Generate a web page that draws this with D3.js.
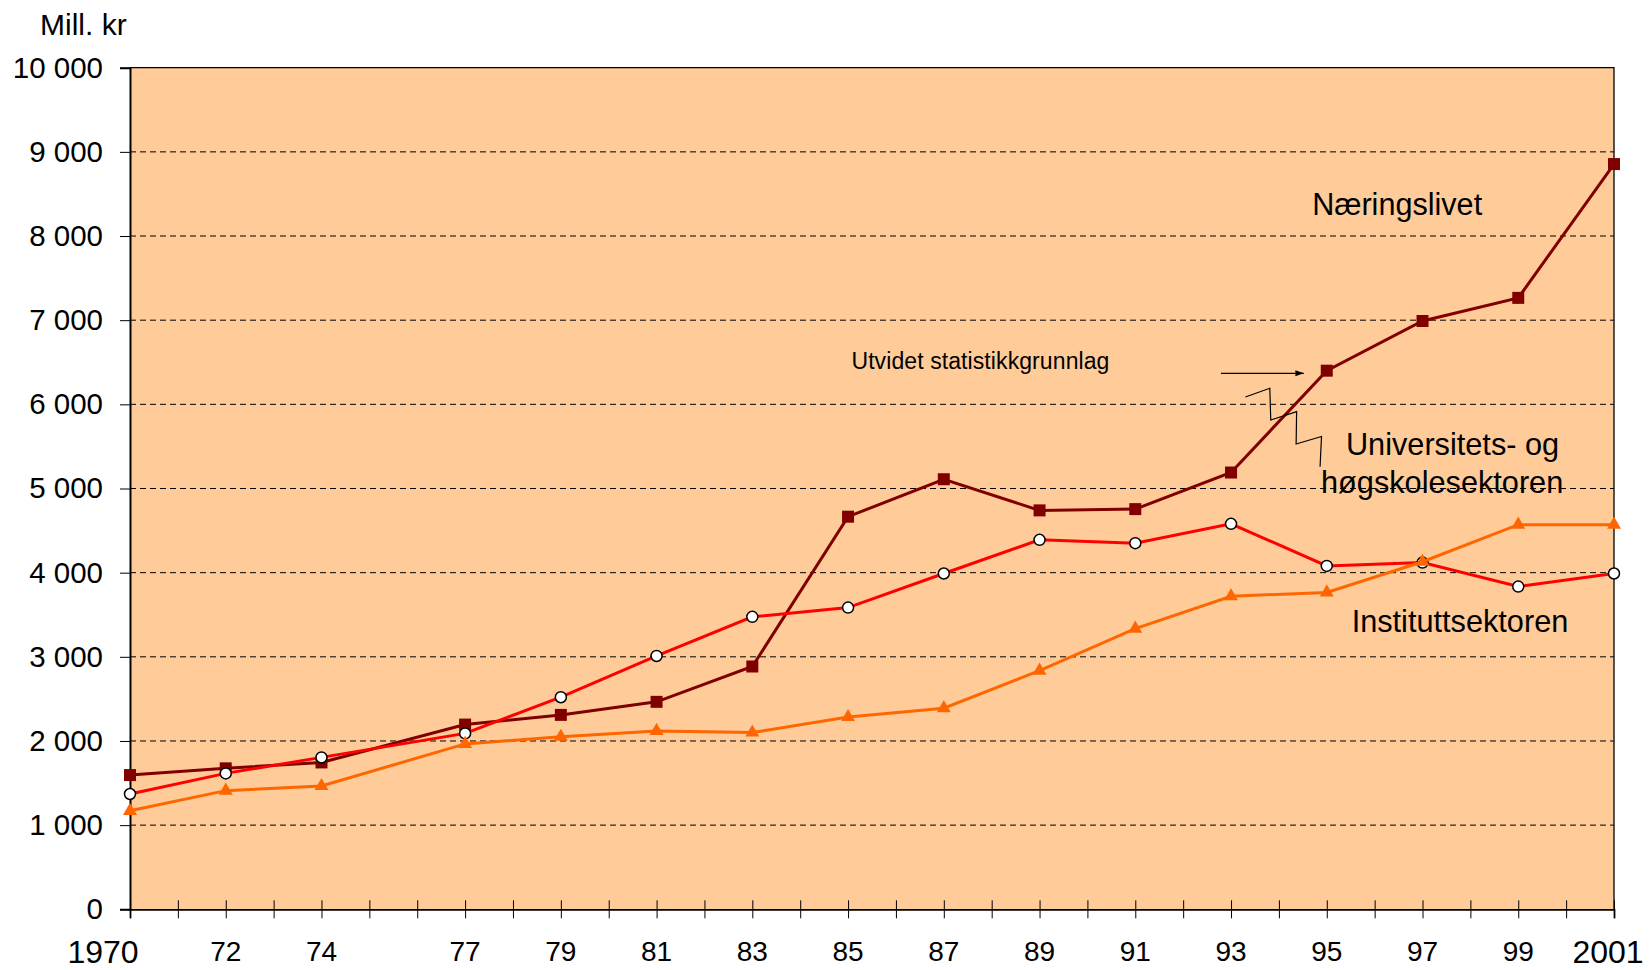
<!DOCTYPE html>
<html>
<head>
<meta charset="utf-8">
<script src="https://cdn.jsdelivr.net/npm/d3@7"></script>
<style>
  body { margin: 0; background: #fff; }
  svg { display: block; font-family: "Liberation Sans", Arial, sans-serif; }
</style>
</head>
<body>
<div id="chart"></div>
<script>
'use strict';

// data
const years = [1970, 1972, 1974, 1977, 1979, 1981, 1983, 1985, 1987, 1989, 1991, 1993, 1995, 1997, 1999, 2001]
const yearLabels = ['1970', '72', '74', '77', '79', '81', '83', '85', '87', '89', '91', '93', '95', '97', '99', '2001']
const naeringslivet = [1595, 1675, 1745, 2195, 2310, 2465, 2885, 4665, 5110, 4740, 4755, 5190, 6400, 6990, 7265, 8855]
const universitet = [1370, 1615, 1805, 2090, 2520, 3010, 3475, 3585, 3990, 4390, 4350, 4580, 4080, 4120, 3835, 3990]
const institutt = [1170, 1410, 1465, 1965, 2050, 2120, 2100, 2285, 2390, 2835, 3335, 3720, 3765, 4130, 4570, 4570]
const yTicks = [0, 1000, 2000, 3000, 4000, 5000, 6000, 7000, 8000, 9000, 10000]

var width = 1650,
    height = 970

var margin = { left: 130, right: 36, top: 67.7, bottom: 60.7 }

var svg = d3.select('#chart').append('svg')
    .attr('width', width)
    .attr('height', height)

var x = d3.scaleLinear()
    .domain([1970, 2001])
    .range([margin.left, width - margin.right])

var y = d3.scaleLinear()
    .domain([0, 10000])
    .range([height - margin.bottom, margin.top])

// plot background
svg.append('rect')
    .attr('x', x(1970))
    .attr('y', y(10000))
    .attr('width', x(2001) - x(1970))
    .attr('height', y(0) - y(10000))
    .attr('fill', '#FFCC99')

// dashed grid
svg.append('g')
    .selectAll('line')
    .data(yTicks.filter(d => d > 0 && d < 10000))
    .enter().append('line')
    .attr('x1', x(1970))
    .attr('x2', x(2001))
    .attr('y1', d => y(d))
    .attr('y2', d => y(d))
    .attr('stroke', '#000')
    .attr('stroke-width', 1)
    .attr('stroke-dasharray', '6,4')

// top and right border
svg.append('path')
    .attr('d', `M${x(1970)},${y(10000)}H${x(2001)}V${y(0)}`)
    .attr('fill', 'none')
    .attr('stroke', '#000')
    .attr('stroke-width', 1.3)

// y axis
var yAxis = svg.append('g')
    .attr('transform', `translate(${x(1970)},0)`)
    .call(d3.axisLeft(y).tickValues(yTicks).tickSize(10).tickPadding(17)
      .tickFormat(d => d3.format(',')(d).replace(/,/g, ' ')))

yAxis.select('.domain').attr('stroke-width', 2)
yAxis.selectAll('text')
    .attr('font-size', 29.5)
    .attr('font-family', '"Liberation Sans", Arial, sans-serif')
    .attr('fill', '#000')

// x axis: a tick every year, crossing the axis line
var xAxis = svg.append('g')
    .attr('transform', `translate(0,${y(0)})`)
    .call(d3.axisBottom(x).tickValues(d3.range(1970, 2002)).tickSize(9).tickFormat(''))

xAxis.select('.domain').attr('stroke-width', 1.8)
xAxis.selectAll('.tick line').attr('y1', -9)

svg.append('g')
    .selectAll('text')
    .data(years)
    .enter().append('text')
    .attr('x', (d, i) => i === 0 ? x(d) - 27 : (i === years.length - 1 ? x(d) - 6 : x(d)))
    .attr('y', (d, i) => (i === 0 || i === years.length - 1) ? 962.5 : 960.5)
    .attr('text-anchor', 'middle')
    .attr('font-size', (d, i) => (i === 0 || i === years.length - 1) ? 32 : 28)
    .text((d, i) => yearLabels[i])

svg.append('text')
    .attr('x', 40)
    .attr('y', 35)
    .attr('font-size', 30)
    .text('Mill. kr')

// series
var series = [
  { values: naeringslivet, color: '#800000', symbol: d3.symbolSquare, size: 144, fill: '#800000', stroke: 'none' },
  { values: universitet, color: '#FF0000', symbol: d3.symbolCircle, size: 95, fill: '#fff', stroke: '#000' },
  { values: institutt, color: '#FF6600', symbol: d3.symbolTriangle, size: 85, fill: '#FF6600', stroke: 'none' }
]

var line = d3.line()
    .x(d => x(d[0]))
    .y(d => y(d[1]))

series.forEach(s => {
  var pts = years.map((yr, i) => [yr, s.values[i]])

  svg.append('path')
      .datum(pts)
      .attr('d', line)
      .attr('fill', 'none')
      .attr('stroke', s.color)
      .attr('stroke-width', 3)

  svg.append('g')
      .selectAll('path')
      .data(pts)
      .enter().append('path')
      .attr('transform', d => `translate(${x(d[0])},${y(d[1])})`)
      .attr('d', d3.symbol().type(s.symbol).size(s.size))
      .attr('fill', s.fill)
      .attr('stroke', s.stroke)
      .attr('stroke-width', 1.5)
})

// labels, placed in data units
svg.append('text')
    .attr('x', x(1996.47))
    .attr('y', y(8250))
    .attr('text-anchor', 'middle')
    .attr('font-size', 30.6)
    .text('Næringslivet')

svg.append('text')
    .attr('x', x(1985.07))
    .attr('y', y(6416))
    .attr('font-size', 23)
    .attr('textLength', 258)
    .text('Utvidet statistikkgrunnlag')

svg.append('text')
    .attr('x', x(1995.40))
    .attr('y', y(5398))
    .attr('font-size', 30.7)
    .text('Universitets- og')

svg.append('text')
    .attr('x', x(1994.88))
    .attr('y', y(4950))
    .attr('font-size', 30.7)
    .text('høgskolesektoren')

svg.append('text')
    .attr('x', x(1995.52))
    .attr('y', y(3291))
    .attr('font-size', 30.7)
    .text('Instituttsektoren')

// arrow pointing at the 1995 break
svg.append('defs').append('marker')
    .attr('id', 'arrow')
    .attr('viewBox', '0 0 10 10')
    .attr('refX', 10)
    .attr('refY', 5)
    .attr('markerWidth', 7)
    .attr('markerHeight', 7)
    .attr('orient', 'auto')
  .append('path')
    .attr('d', 'M0,1.5L10,5L0,8.5Z')
    .attr('fill', '#000')

svg.append('line')
    .attr('x1', x(1992.79))
    .attr('x2', x(1994.52))
    .attr('y1', y(6369))
    .attr('y2', y(6369))
    .attr('stroke', '#000')
    .attr('stroke-width', 1.2)
    .attr('marker-end', 'url(#arrow)')

// zigzag leader from the university label
var zig = [[1993.30, 6087], [1993.81, 6191], [1993.83, 5814], [1994.37, 5913],
           [1994.36, 5529], [1994.89, 5618], [1994.86, 5259]]

svg.append('path')
    .datum(zig)
    .attr('d', line)
    .attr('fill', 'none')
    .attr('stroke', '#000')
    .attr('stroke-width', 1.2)
</script>
</body>
</html>
